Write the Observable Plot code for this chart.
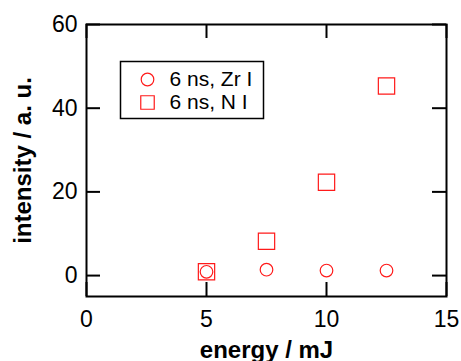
<!DOCTYPE html>
<html>
<head>
<meta charset="utf-8">
<script src="https://cdn.jsdelivr.net/npm/d3@7"></script>
<script src="https://cdn.jsdelivr.net/npm/@observablehq/plot@0.6"></script>
<style>
  html, body { margin: 0; padding: 0; background: #fff; }
</style>
</head>
<body>
<div id="chart"></div>
<script>
// ---- data ----
const energy = [5, 7.5, 10, 12.5];
const zrI = [0.9, 1.4, 1.2, 1.2];
const nI = [0.9, 8.2, 22.3, 45.3];
const xTicks = [0, 5, 10, 15];
const yTicks = [0, 20, 40, 60];
const seriesNames = ["6 ns, Zr I", "6 ns, N I"];
const xTitle = "energy / mJ";
const yTitle = "intensity / a. u.";

const zrData = energy.map((e, i) => ({energy: e, value: zrI[i]}));
const nData = energy.map((e, i) => ({energy: e, value: nI[i]}));

const W = 461, H = 361;
const mL = 86, mR = 15, mT = 24, mB = 65;
const innerW = W - mL - mR, innerH = H - mT - mB;
const tickLen = 14;
const red = "#ff1a1a";
const font = "'Liberation Sans', Arial, Helvetica, sans-serif";

const chart = Plot.plot({
  width: W,
  height: H,
  marginLeft: mL,
  marginRight: mR,
  marginTop: mT,
  marginBottom: mB,
  style: {fontFamily: font, background: "#fff", color: "#000"},
  x: {domain: [0, 15]},
  y: {domain: [-5, 60]},
  marks: [
    // inward ticks on all four sides
    Plot.tickX(xTicks, {stroke: "black", strokeWidth: 2, insetTop: innerH - tickLen}),
    Plot.tickX(xTicks, {stroke: "black", strokeWidth: 2, insetBottom: innerH - tickLen}),
    Plot.tickY(yTicks, {stroke: "black", strokeWidth: 2, insetRight: innerW - tickLen}),
    Plot.tickY(yTicks, {stroke: "black", strokeWidth: 2, insetLeft: innerW - tickLen}),
    Plot.axisX(xTicks, {anchor: "bottom", tickSize: 0, tickPadding: 14, fontSize: 23, label: null}),
    Plot.axisY(yTicks, {anchor: "left", tickSize: 0, tickPadding: 9, fontSize: 23, label: null}),
    Plot.frame({stroke: "black", strokeWidth: 2}),
    // data
    Plot.dot(zrData, {x: "energy", y: "value", r: 6.3, stroke: red, strokeWidth: 1.2, symbol: "circle"}),
    Plot.dot(nData, {x: "energy", y: "value", r: 9.2, stroke: red, strokeWidth: 1.2, symbol: "square"}),
    // axis titles
    Plot.text([xTitle], {frameAnchor: "bottom", lineAnchor: "middle", dy: 54, fontSize: 24, fontWeight: "bold", fill: "black"}),
    Plot.text([yTitle], {frameAnchor: "left", textAnchor: "middle", lineAnchor: "middle", dx: -63, rotate: -90, fontSize: 24, fontWeight: "bold", fill: "black"}),
    // legend
    Plot.frame({stroke: "black", strokeWidth: 1.5, insetLeft: 34, insetRight: innerW - 177, insetTop: 37, insetBottom: innerH - 94}),
    Plot.dot([seriesNames[0]], {frameAnchor: "top-left", dx: 61, dy: 55, r: 6.3, stroke: red, strokeWidth: 1.2, symbol: "circle"}),
    Plot.dot([seriesNames[1]], {frameAnchor: "top-left", dx: 61, dy: 78, r: 7.6, stroke: red, strokeWidth: 1.2, symbol: "square"}),
    Plot.text([seriesNames[0]], {frameAnchor: "top-left", dx: 83, dy: 55, fontSize: 21, textAnchor: "start", lineAnchor: "middle", fill: "black"}),
    Plot.text([seriesNames[1]], {frameAnchor: "top-left", dx: 83, dy: 78, fontSize: 21, textAnchor: "start", lineAnchor: "middle", fill: "black"})
  ]
});
document.getElementById("chart").appendChild(chart);
</script>
</body>
</html>
